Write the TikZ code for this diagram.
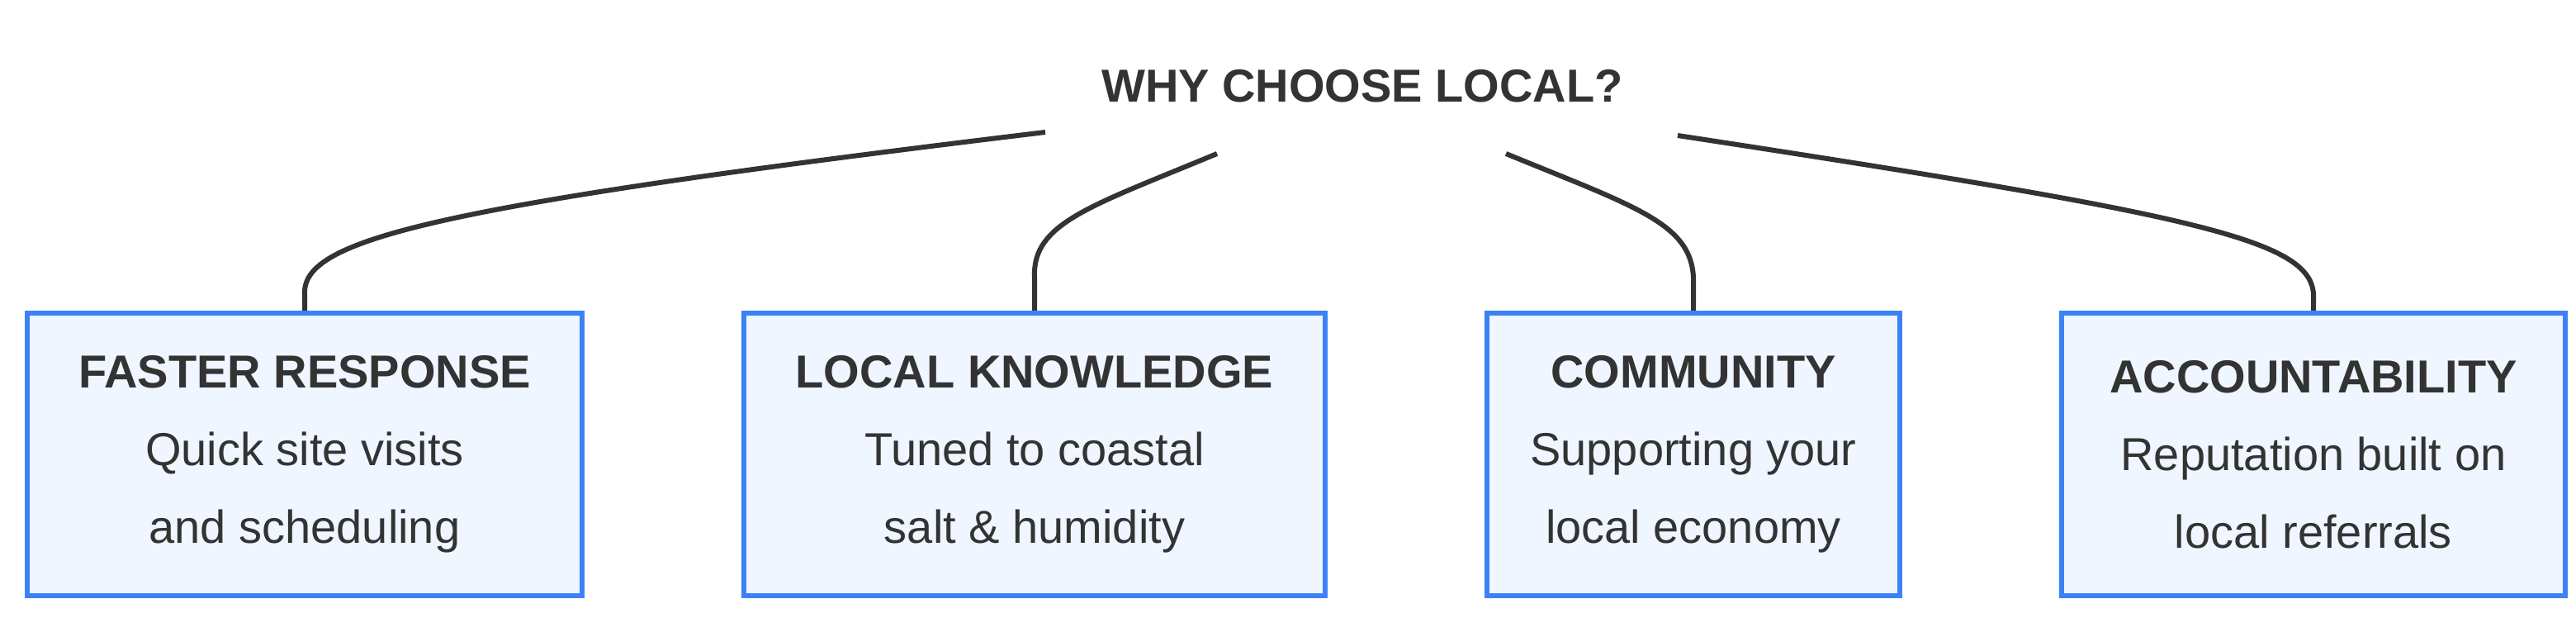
\documentclass[tikz,border=0pt]{standalone}
\usepackage{fontspec}
\setmainfont{Liberation Sans}
\definecolor{bord}{HTML}{3B82F6}
\definecolor{fillc}{HTML}{EFF6FF}
\definecolor{txt}{HTML}{333333}
\begin{document}
\begin{tikzpicture}[x=1pt,y=-1pt,
  box/.style={draw=bord,fill=fillc,line width=3pt,align=center,text=txt,font=\fontsize{28}{47}\selectfont,inner sep=0pt,anchor=north west},
  conn/.style={draw=txt,line width=3pt}]
\useasboundingbox (0,0) rectangle (1560,374);
\node[text=txt,font=\fontsize{28}{34}\selectfont\bfseries] (title) at (825,52) {WHY CHOOSE LOCAL?};
\node[box,minimum width=336pt,minimum height=171pt] (b1) at (15,188) {\textbf{FASTER RESPONSE}\\Quick site visits\\and scheduling};
\node[box,minimum width=352pt,minimum height=171pt] (b2) at (449,188) {\textbf{LOCAL KNOWLEDGE}\\Tuned to coastal\\salt \& humidity};
\node[box,minimum width=250pt,minimum height=171pt] (b3) at (899,188) {\textbf{COMMUNITY}\\Supporting your\\local economy};
\node[box,minimum width=305pt,minimum height=171pt] (b4) at (1247,188) {\textbf{ACCOUNTABILITY}\\Reputation built on\\local referrals};
\coordinate (e1) at (633,80);
\coordinate (e2) at (737,93);
\coordinate (e3) at (912,93);
\coordinate (e4) at (1016,82);
\draw[conn] (b1.north) -- ++(0,-10) .. controls (183,145) and (260,125) .. (e1);
\draw[conn] (b2.north) -- ++(0,-20) .. controls (625,135) and (660,125) .. (e2);
\draw[conn] (b3.north) -- ++(0,-20) .. controls (1024,135) and (990,125) .. (e3);
\draw[conn] (b4.north) -- ++(0,-10) .. controls (1399,145) and (1330,130) .. (e4);
\end{tikzpicture}
\end{document}
